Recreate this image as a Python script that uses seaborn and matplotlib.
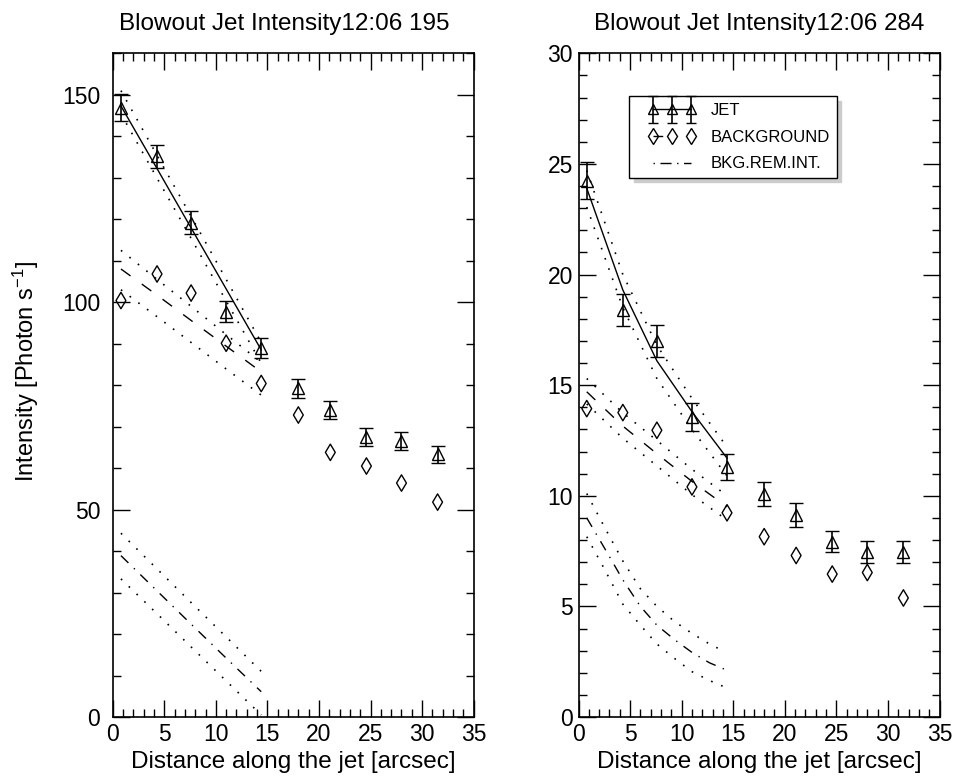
import numpy as np
import pandas as pd
import matplotlib
matplotlib.use("Agg")
import matplotlib.pyplot as plt
import seaborn as sns
from matplotlib.lines import Line2D
from matplotlib.legend_handler import HandlerLine2D, HandlerErrorbar
from matplotlib.ticker import MultipleLocator

# ---------------- data ----------------
# positions along the jet [arcsec]
distance = [0.8, 4.3, 7.6, 11.0, 14.4, 18.0, 21.1, 24.6, 28.0, 31.5]

# 195 channel
jet_195 = [146.9, 135.2, 119.2, 97.7, 88.9, 79.2, 74.0, 67.5, 66.5, 63.3]
jet_195_err = [3.2, 2.8, 2.7, 2.5, 2.4, 2.3, 2.2, 2.1, 2.1, 2.0]
bkg_195 = [100.4, 106.8, 102.2, 90.1, 80.4, 72.8, 63.8, 60.5, 56.4, 51.8]

fit_x_195 = [0.8, 4.3, 7.6, 11.0, 14.4]
jet_fit_195 = [147.3, 132.2, 117.9, 103.2, 88.5]
jet_fit_195_hi = [151.0, 135.4, 120.7, 105.5, 90.3]
jet_fit_195_lo = [145.4, 129.9, 115.4, 100.3, 85.3]
bkg_fit_195 = [108.0, 101.7, 95.6, 89.4, 83.2]
bkg_fit_195_hi = [112.5, 105.5, 99.0, 92.2, 85.5]
bkg_fit_195_lo = [103.0, 96.5, 90.3, 83.9, 77.6]
rem_195 = [38.9, 30.4, 22.4, 14.2, 6.1]
rem_195_hi = [44.3, 35.7, 27.6, 19.3, 11.0]
rem_195_lo = [33.3, 24.9, 16.9, 8.7, 0.5]

# 284 channel
jet_284 = [24.25, 18.4, 17.0, 13.56, 11.3, 10.08, 9.13, 7.93, 7.45, 7.45]
jet_284_err = [0.85, 0.73, 0.74, 0.64, 0.6, 0.56, 0.53, 0.49, 0.49, 0.49]
bkg_284 = [13.94, 13.76, 12.96, 10.4, 9.23, 8.15, 7.3, 6.46, 6.53, 5.38]

fit_x_284 = [0.8, 4.3, 7.6, 11.0, 14.4]
jet_fit_284 = [23.9, 19.3, 16.1, 13.8, 11.7]
jet_fit_284_hi = [24.7, 20.0, 16.8, 14.4, 12.2]
jet_fit_284_lo = [23.05, 18.5, 15.3, 13.0, 10.9]
bkg_fit_284 = [14.7, 13.15, 11.9, 10.65, 9.5]
bkg_fit_284_hi = [15.3, 13.75, 12.5, 11.2, 10.0]
bkg_fit_284_lo = [14.15, 12.6, 11.35, 10.05, 8.9]

rem_x_284 = [0.8, 2.5, 4.3, 6.0, 7.6, 9.3, 11.0, 12.7, 14.2]
rem_284 = [9.0, 7.65, 6.2, 5.0, 4.15, 3.5, 2.92, 2.45, 2.15]
rem_284_hi = [10.1, 8.6, 7.05, 5.8, 5.0, 4.32, 3.78, 3.3, 2.95]
rem_284_lo = [8.15, 6.7, 5.1, 4.15, 3.3, 2.65, 2.05, 1.65, 1.35]

titles = ["Blowout Jet Intensity12:06 195", "Blowout Jet Intensity12:06 284"]
legend_labels = ["JET", "BACKGROUND", "BKG.REM.INT."]

# ---------------- style ----------------
sns.set_theme(style="white")
plt.rcParams["font.family"] = ["Liberation Sans", "DejaVu Sans"]
plt.rcParams["mathtext.fontset"] = "custom"
plt.rcParams["mathtext.rm"] = "Liberation Sans"
plt.rcParams["mathtext.it"] = "Liberation Sans"
for key in ("text.color", "axes.labelcolor", "xtick.color", "ytick.color",
            "axes.edgecolor"):
    plt.rcParams[key] = "black"

DOT = (0, (1, 5.5))
DASH = (0, (8.5, 10))
DASHDOT = (0, (7.5, 5.5, 1, 5.5))
LW = 1.0

fig = plt.figure(figsize=(9.6, 7.79), dpi=100)
W, H = 960, 779
ax_l = fig.add_axes([112.7 / W, 1 - 717 / H, 361 / W, (717 - 53.3) / H])
ax_r = fig.add_axes([578.5 / W, 1 - 717 / H, 361 / W, (717 - 53.3) / H])


def fit_line(ax, x, y, style):
    df = pd.DataFrame({"x": x, "y": y})
    lw = 1.2 if style == DOT else LW
    sns.lineplot(data=df, x="x", y="y", ax=ax, color="black", lw=lw,
                 linestyle=style, sort=False, estimator=None, legend=False)


def panel(ax, jet, err, bkg, fits, ylim, ymaj, ymin, title, ypad, title_x):
    ax.errorbar(distance, jet, yerr=err, fmt="^", color="black", mfc="none",
                ms=8, mew=1.0, elinewidth=1.2, capsize=5, capthick=1.2)
    sns.scatterplot(x=distance, y=bkg, ax=ax, marker="d", s=70,
                    facecolors="none", edgecolors="black", linewidth=1.0,
                    legend=False)
    for x, y, style in fits:
        fit_line(ax, x, y, style)
    ax.set_xlim(0, 35)
    ax.set_ylim(*ylim)
    ax.xaxis.set_major_locator(MultipleLocator(5))
    ax.xaxis.set_minor_locator(MultipleLocator(1))
    ax.yaxis.set_major_locator(MultipleLocator(ymaj))
    ax.yaxis.set_minor_locator(MultipleLocator(ymin))
    ax.tick_params(which="both", direction="in", top=True, right=True,
                   bottom=True, left=True, width=1.0, color="black")
    ax.tick_params(which="major", length=12)
    ax.tick_params(which="minor", length=6)
    ax.tick_params(axis="x", which="major", labelsize=16.5, pad=4)
    ax.tick_params(axis="y", which="major", labelsize=16.5, pad=ypad)
    for sp in ax.spines.values():
        sp.set_color("black")
        sp.set_linewidth(1.2)
    ax.set_xlabel("Distance along the jet [arcsec]", fontsize=17.5,
                  labelpad=4)
    ax.set_ylabel("")
    ax.set_title(title, fontsize=17.5, pad=17, x=title_x)


panel(ax_l, jet_195, jet_195_err, bkg_195,
      [(fit_x_195, jet_fit_195, "-"),
       (fit_x_195, jet_fit_195_hi, DOT), (fit_x_195, jet_fit_195_lo, DOT),
       (fit_x_195, bkg_fit_195, DASH),
       (fit_x_195, bkg_fit_195_hi, DOT), (fit_x_195, bkg_fit_195_lo, DOT),
       (fit_x_195, rem_195, DASHDOT),
       (fit_x_195, rem_195_hi, DOT), (fit_x_195, rem_195_lo, DOT)],
      (0, 160), 50, 10, titles[0], 9, 0.475)

panel(ax_r, jet_284, jet_284_err, bkg_284,
      [(fit_x_284, jet_fit_284, "-"),
       (fit_x_284, jet_fit_284_hi, DOT), (fit_x_284, jet_fit_284_lo, DOT),
       (fit_x_284, bkg_fit_284, DASH),
       (fit_x_284, bkg_fit_284_hi, DOT), (fit_x_284, bkg_fit_284_lo, DOT),
       (rem_x_284, rem_284, DASHDOT),
       (rem_x_284, rem_284_hi, DOT), (rem_x_284, rem_284_lo, DOT)],
      (0, 30), 5, 1, titles[1], 4, 0.5)

fig.text(26 / W, 1 - 372 / H, r"Intensity [Photon s$^{-1}$]", rotation=90,
         ha="center", va="center", fontsize=17)

# legend proxies
jet_handle = ax_r.errorbar([np.nan], [np.nan], yerr=[1.0], fmt="-^",
                           color="black", mfc="none", ms=7, mew=1.0, lw=LW,
                           elinewidth=1.2, capsize=3.5, capthick=1.2)
bkg_handle = Line2D([], [], color="black", lw=LW, linestyle=(0, (7, 37.6)),
                    marker="d", ms=8, mfc="none", mew=1.0)
rem_handle = Line2D([], [], color="black", lw=LW,
                    linestyle=(0, (1, 4, 8, 4)))
ax_r.legend([jet_handle, bkg_handle, rem_handle], legend_labels,
            loc="upper left", bbox_to_anchor=(0.141, 0.935),
            borderaxespad=0, numpoints=3, fontsize=12, handlelength=4.3,
            handletextpad=0.2, labelspacing=0.7, borderpad=0.4,
            fancybox=False, edgecolor="black", framealpha=1,
            shadow={"color": "0.8", "ox": 3, "oy": -3, "alpha": 1},
            handler_map={Line2D: HandlerLine2D(marker_pad=1.0),
                         type(jet_handle): HandlerErrorbar(marker_pad=1.0,
                                                           yerr_size=0.8)})
ax_r.get_legend().get_frame().set_linewidth(1.0)

fig.savefig("out.png", dpi=100, facecolor="white")
